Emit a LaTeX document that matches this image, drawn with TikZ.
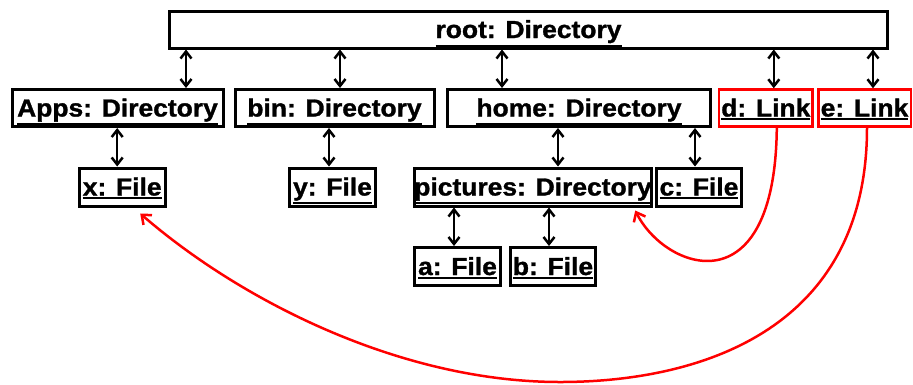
\documentclass[tikz,border=0pt]{standalone}
\usepackage{fontspec}
\newfontfamily\lblfont{Liberation Sans Bold}[FakeStretch=1.07,FakeBold=1.2]
\usetikzlibrary{arrows.meta}
% underlined label text with a heavier rule
\newsavebox\ulbox
\newcommand\ultext[1]{\sbox\ulbox{#1}\usebox\ulbox\llap{\rule[\dimexpr-\dp\ulbox-3.6pt\relax]{\wd\ulbox}{2pt}}}
\begin{document}
\begin{tikzpicture}[x=1pt,y=-1pt,
  obj/.style={draw=black, line width=3pt, inner sep=0pt, minimum height=37pt,
    text height=17pt, text depth=0pt,
    font=\lblfont\fontsize{24.7}{29}\selectfont},
  lnk/.style={obj, draw=red, line width=2.5pt},
  dbl/.style={line width=2.5pt,
    {Straight Barb[length=7pt,width=11pt]}-{Straight Barb[length=7pt,width=11pt]}},
  ref/.style={draw=red, line width=2.5pt, -{Straight Barb[length=8pt,width=13pt]}}]
\useasboundingbox (0,0) rectangle (913,384);

% objects
\node[obj, minimum width=718pt] (root) at (528.5,29.5) {\ultext{root: Directory}};
\node[obj, minimum width=211pt] (apps) at (117.5,108) {\ultext{Apps: Directory}};
\node[obj, minimum width=199pt] (bin) at (334.5,108) {\ultext{bin: Directory}};
\node[obj, minimum width=263pt] (home) at (579,108) {\ultext{home: Directory}};
\node[lnk, minimum width=93.5pt] (d) at (765.8,108) {\ultext{d: Link}};
\node[lnk, minimum width=92.5pt] (e) at (864.5,108) {\ultext{e: Link}};
\node[obj, minimum width=86pt, minimum height=38pt] (x) at (122.2,187) {\ultext{x: File}};
\node[obj, minimum width=86pt, minimum height=38pt] (y) at (332.5,187) {\ultext{y: File}};
\node[obj, minimum width=235pt, minimum height=38pt] (pics) at (533,187) {\ultext{pictures: Directory}};
\node[obj, minimum width=85pt, minimum height=38pt] (c) at (699,187) {\ultext{c: File}};
\node[obj, minimum width=86pt, minimum height=38pt] (a) at (457.5,266.5) {\ultext{a: File}};
\node[obj, minimum width=85pt, minimum height=38pt] (b) at (553,266.5) {\ultext{b: File}};

% containment links
\draw[dbl] ([xshift=68.5pt]apps.north) -- ([xshift=68.5pt]apps.north |- root.south);
\draw[dbl] ([xshift=5.5pt]bin.north) -- ([xshift=5.5pt]bin.north |- root.south);
\draw[dbl] ([xshift=-77pt]home.north) -- ([xshift=-77pt]home.north |- root.south);
\draw[dbl] ([xshift=8pt]d.north) -- ([xshift=8pt]d.north |- root.south);
\draw[dbl] ([xshift=8.5pt]e.north) -- ([xshift=8.5pt]e.north |- root.south);
\draw[dbl] ([xshift=-5pt]x.north) -- ([xshift=-5pt]x.north |- apps.south);
\draw[dbl] ([xshift=-3.5pt]y.north) -- ([xshift=-3.5pt]y.north |- bin.south);
\draw[dbl] ([xshift=25pt]pics.north) -- ([xshift=25pt]pics.north |- home.south);
\draw[dbl] ([xshift=-4pt]c.north) -- ([xshift=-4pt]c.north |- home.south);
\draw[dbl] ([xshift=-3.5pt]a.north) -- ([xshift=-3.5pt]a.north |- pics.south);
\draw[dbl] ([xshift=-4pt]b.north) -- ([xshift=-4pt]b.north |- pics.south);

% link targets
\draw[ref] ([xshift=11pt]d.south) .. controls (775,310) and (665,270) ..
  ([xshift=-18pt,yshift=-3pt]pics.south east);
\draw[ref] ([xshift=2.5pt]e.south) .. controls (867,330) and (700,382) .. (560,382)
  .. controls (400,382) and (240,300) .. ([xshift=18pt,yshift=-6pt]x.south);
\end{tikzpicture}
\end{document}
